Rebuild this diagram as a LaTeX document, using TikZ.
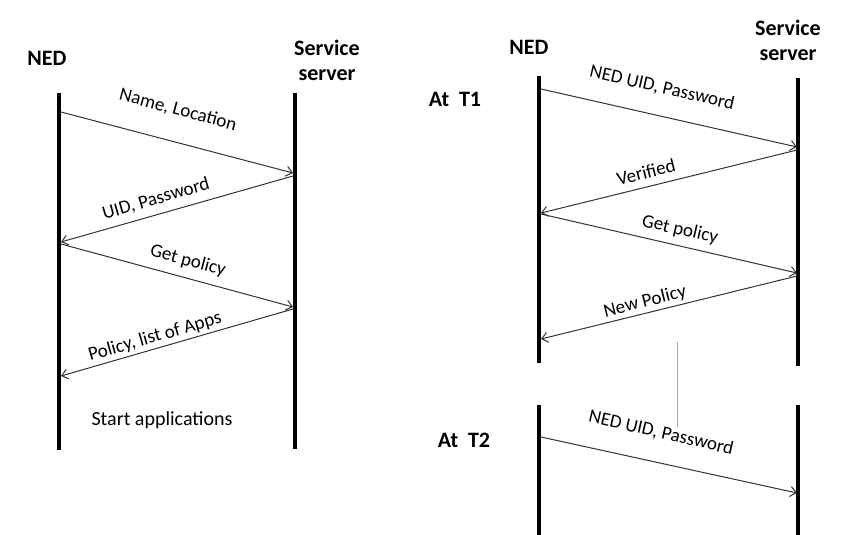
\documentclass[tikz,border=0pt]{standalone}
\usepackage{fontspec}
\setmainfont{Carlito}
\usetikzlibrary{arrows.meta}
\begin{document}
\begin{tikzpicture}[x=1pt,y=-1pt,
  lifeline/.style={line width=4.5pt,black},
  msg/.style={draw=black!80,line width=1pt,-{Straight Barb[length=6pt,width=10pt,line width=1pt]}},
  lbl/.style={font=\fontsize{19}{22}\selectfont,inner sep=0pt},
  ttl/.style={font=\fontsize{22}{25}\selectfont\bfseries,inner sep=0pt,align=center}]
\useasboundingbox (0,0) rectangle (849,535);
% ---------- left diagram ----------
\coordinate (lnt) at (59,93);   \coordinate (lnb) at (59,450);
\coordinate (lst) at (295,93);  \coordinate (lsb) at (295,449);
\draw[lifeline] (lnt) -- (lnb);
\draw[lifeline] (lst) -- (lsb);
\node[ttl] (lned) at (47,58) {NED};
\node[ttl] (lserv) at (327,60) {Service\\server};
\coordinate (l1a) at (61,112);  \coordinate (l1b) at (293,173);
\coordinate (l2a) at (293,176); \coordinate (l2b) at (61,242);
\coordinate (l3a) at (61,244);  \coordinate (l3b) at (293,307);
\coordinate (l4a) at (293,309); \coordinate (l4b) at (61,376);
\draw[msg] (l1a) -- (l1b);
\draw[msg] (l2a) -- (l2b);
\draw[msg] (l3a) -- (l3b);
\draw[msg] (l4a) -- (l4b);
\node[lbl,rotate=-15] (t1) at (178,110) {Name, Location};
\node[lbl,rotate=16] (t2) at (156,199) {UID, Password};
\node[lbl,rotate=-15] (t3) at (188,261) {Get policy};
\node[lbl,rotate=16] (t4) at (155,337) {Policy, list of Apps};
\node[lbl,font=\fontsize{20}{22}\selectfont] (t5) at (162,420) {Start applications};
% ---------- right diagram ----------
\coordinate (rnt) at (539,76);  \coordinate (rnb) at (539,363);
\coordinate (rst) at (798,78);  \coordinate (rsb) at (798,366);
\coordinate (rnt2) at (539,405); \coordinate (rnb2) at (539,535);
\coordinate (rst2) at (798,405); \coordinate (rsb2) at (798,535);
\draw[lifeline] (rnt) -- (rnb);
\draw[lifeline] (rst) -- (rsb);
\draw[lifeline] (rnt2) -- (rnb2);
\draw[lifeline] (rst2) -- (rsb2);
\node[ttl] (rned) at (529,47) {NED};
\node[ttl] (rserv) at (788,40) {Service\\server};
\node[ttl] (at1) at (455,99) {At\ \ T1};
\node[ttl] (at2) at (464,440) {At\ \ T2};
\coordinate (g1) at (677,342); \coordinate (g2) at (677,427);
\draw[black!35,line width=0.7pt] (g1) -- (g2);
\coordinate (r1a) at (541,89);  \coordinate (r1b) at (797,147);
\coordinate (r2a) at (797,150); \coordinate (r2b) at (541,213);
\coordinate (r3a) at (541,214); \coordinate (r3b) at (797,273);
\coordinate (r4a) at (797,276); \coordinate (r4b) at (541,339);
\coordinate (r5a) at (541,437); \coordinate (r5b) at (797,493);
\draw[msg] (r1a) -- (r1b);
\draw[msg] (r2a) -- (r2b);
\draw[msg] (r3a) -- (r3b);
\draw[msg] (r4a) -- (r4b);
\draw[msg] (r5a) -- (r5b);
\node[lbl,rotate=-13] (u1) at (662,88) {NED UID, Password};
\node[lbl,rotate=14] (u2) at (646,172) {Verified};
\node[lbl,rotate=-13] (u3) at (680,230) {Get policy};
\node[lbl,rotate=14] (u4) at (645,302) {New Policy};
\node[lbl,rotate=-13] (u5) at (661,433) {NED UID, Password};
\end{tikzpicture}
\end{document}
